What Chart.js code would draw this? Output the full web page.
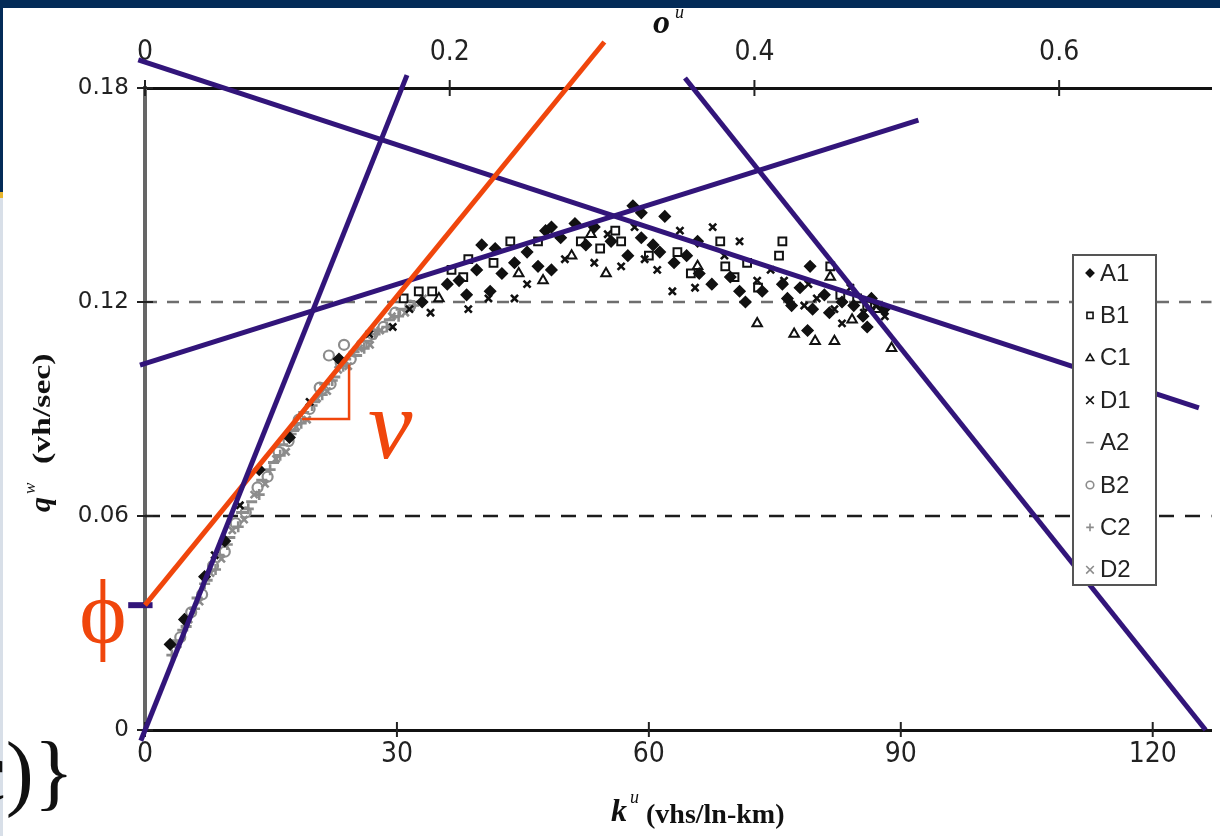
<!DOCTYPE html>
<html lang="en">
<head>
<meta charset="UTF-8">
<title>Flow-density diagram</title>
<style>
    body { margin: 0; padding: 0; background: #ffffff; }
    #wrap { position: relative; width: 1220px; height: 836px; }
</style>
</head>
<body>
<div id="wrap"><canvas id="chart"></canvas></div>

<script src="https://cdn.jsdelivr.net/npm/chart.js"></script>
<script>
// ---- data (k = density veh/ln-km, q = flow veh/sec) ----
const seriesNames = ['A1', 'B1', 'C1', 'D1', 'A2', 'B2', 'C2', 'D2'];

const kA1 = [3.0, 4.7, 7.1, 9.5, 13.6, 17.2, 23.1, 33.0, 36.0, 37.4, 38.3, 39.5, 40.1, 41.1, 41.7, 42.5, 44.0, 45.5, 46.8, 47.7, 48.4, 48.4, 49.5, 51.2, 52.5, 53.5, 55.5, 57.5, 58.1, 59.1, 59.1, 60.5, 61.3, 61.9, 63.0, 64.5, 65.8, 66.0, 67.5, 69.7, 70.8, 71.5, 73.5, 75.9, 76.5, 77.0, 78.0, 78.9, 79.2, 79.5, 80.9, 81.5, 83.0, 84.4, 85.5, 86.0, 86.5, 88.0];
const qA1 = [0.024, 0.031, 0.043, 0.053, 0.073, 0.082, 0.104, 0.120, 0.125, 0.126, 0.122, 0.129, 0.136, 0.123, 0.135, 0.128, 0.131, 0.134, 0.130, 0.140, 0.141, 0.129, 0.138, 0.142, 0.136, 0.141, 0.137, 0.133, 0.147, 0.145, 0.138, 0.136, 0.134, 0.144, 0.131, 0.133, 0.137, 0.128, 0.125, 0.127, 0.123, 0.120, 0.123, 0.125, 0.121, 0.119, 0.124, 0.112, 0.130, 0.118, 0.122, 0.117, 0.120, 0.119, 0.116, 0.113, 0.121, 0.118];

const kB1 = [30.8, 32.6, 34.2, 36.5, 37.9, 38.5, 41.5, 43.5, 46.8, 51.9, 54.2, 56.0, 56.7, 60.0, 63.4, 65.0, 68.5, 69.1, 70.2, 71.7, 73.0, 75.5, 75.9, 81.6, 82.8, 84.8, 86.0];
const qB1 = [0.121, 0.123, 0.123, 0.129, 0.127, 0.132, 0.131, 0.137, 0.137, 0.137, 0.135, 0.140, 0.137, 0.133, 0.134, 0.128, 0.137, 0.130, 0.127, 0.131, 0.124, 0.133, 0.137, 0.130, 0.122, 0.121, 0.119];

const kC1 = [35.0, 44.5, 47.4, 50.8, 53.1, 54.9, 65.8, 72.9, 77.3, 79.8, 81.6, 82.1, 84.2, 87.2, 88.9];
const qC1 = [0.121, 0.128, 0.126, 0.133, 0.139, 0.128, 0.130, 0.114, 0.111, 0.109, 0.127, 0.109, 0.115, 0.118, 0.107];

const kD1 = [8.3, 11.3, 19.6, 26.7, 29.5, 31.5, 34.0, 38.5, 40.9, 44.0, 45.5, 50.0, 53.5, 55.1, 56.7, 58.3, 59.5, 61.0, 62.8, 63.7, 65.5, 67.6, 69.0, 70.8, 72.9, 74.5, 76.1, 78.5, 79.0, 80.0, 82.1, 83.0, 84.0, 85.6, 87.0, 88.1];
const qD1 = [0.049, 0.063, 0.092, 0.111, 0.113, 0.118, 0.117, 0.118, 0.121, 0.121, 0.125, 0.132, 0.131, 0.139, 0.130, 0.141, 0.132, 0.129, 0.123, 0.140, 0.124, 0.141, 0.133, 0.137, 0.126, 0.129, 0.126, 0.119, 0.125, 0.121, 0.118, 0.114, 0.124, 0.117, 0.119, 0.116];

const kA2 = [3.6, 4.9, 6.2, 7.4, 8.8, 10.1, 11.5, 12.7, 13.9, 15.3, 16.4, 17.7, 18.9, 20.2, 21.4, 22.6, 23.9, 25.2, 26.4, 27.7, 29.1, 30.5];
const qA2 = [0.025, 0.029, 0.037, 0.042, 0.049, 0.054, 0.061, 0.064, 0.070, 0.075, 0.080, 0.084, 0.089, 0.092, 0.097, 0.099, 0.104, 0.105, 0.109, 0.112, 0.115, 0.118];

const kB2 = [4.2, 5.5, 6.8, 8.1, 9.5, 10.8, 12.0, 13.4, 14.6, 15.9, 17.1, 18.3, 19.6, 20.8, 21.9, 22.1, 23.3, 23.7, 24.5, 25.8, 27.1, 28.4, 29.8, 31.6];
const qB2 = [0.026, 0.033, 0.038, 0.046, 0.050, 0.058, 0.061, 0.068, 0.071, 0.078, 0.081, 0.087, 0.090, 0.096, 0.105, 0.097, 0.103, 0.108, 0.104, 0.108, 0.111, 0.113, 0.117, 0.119];

const kC2 = [3.2, 4.5, 5.9, 7.1, 8.4, 9.8, 11.1, 12.3, 13.6, 14.9, 16.1, 17.4, 18.6, 19.9, 21.1, 22.3, 23.6, 24.9, 26.1, 27.4, 28.8, 30.2, 32.0];
const qC2 = [0.021, 0.028, 0.034, 0.041, 0.045, 0.052, 0.057, 0.062, 0.066, 0.073, 0.077, 0.083, 0.086, 0.091, 0.094, 0.098, 0.102, 0.106, 0.107, 0.111, 0.113, 0.116, 0.119];

const kD2 = [3.9, 5.2, 6.5, 7.8, 9.1, 10.4, 11.8, 13.0, 14.3, 15.6, 16.8, 18.0, 19.3, 20.5, 21.7, 23.0, 24.2, 25.5, 26.8, 28.0, 29.4, 31.0, 33.1];
const qD2 = [0.024, 0.031, 0.036, 0.044, 0.048, 0.056, 0.059, 0.066, 0.069, 0.076, 0.078, 0.085, 0.087, 0.093, 0.095, 0.101, 0.102, 0.107, 0.108, 0.112, 0.116, 0.117, 0.121];

// fitted lines, [k, q] end points
const freeFlowLine = [[-0.5, -0.003], [31.2, 0.1836]];
const orangeLine   = [[0, 0.035], [54.7, 0.1929]];
const risingLine   = [[-0.6, 0.1023], [92.1, 0.171]];
const fallingLine  = [[-0.8, 0.1879], [125.5, 0.0903]];
const jamLine      = [[64.3, 0.1828], [126.3, 0]];
const phiMark      = [[-2.0, 0.035], [0.9, 0.035]];
const slopeTri     = [[18.7, 0.0872], [24.3, 0.0872], [24.3, 0.1025]];

// axes
const kTicks = [0, 30, 60, 90, 120];
const oTicks = [0, 0.2, 0.4, 0.6];
const qTicks = [0, 0.06, 0.12, 0.18];

const pts = (ks, qs) => ks.map((k, i) => ({ x: k, y: qs[i] }));
const seg = arr => arr.map(p => ({ x: p[0], y: p[1] }));

const BLACK = '#111111';
const GREY = '#8c8c8c';
const PURPLE = '#32157a';
const ORANGE = '#f0460c';

function markerSet(label, data, style, color, fill, r, bw) {
    return {
        label: label, data: data, pointStyle: style, pointRadius: r,
        borderColor: color, backgroundColor: fill, pointBorderWidth: bw,
        borderWidth: bw, order: color === GREY ? 2 : 1
    };
}
function lineSet(data, color, w) {
    return {
        label: '', data: data, showLine: true, pointRadius: 0, borderColor: color,
        borderWidth: w, clip: false, order: 0, borderCapStyle: 'butt'
    };
}

const datasets = [
    lineSet(seg(freeFlowLine), PURPLE, 5),
    lineSet(seg(orangeLine), ORANGE, 5),
    lineSet(seg(risingLine), PURPLE, 5),
    lineSet(seg(fallingLine), PURPLE, 5),
    lineSet(seg(jamLine), PURPLE, 5),
    lineSet(seg(phiMark), PURPLE, 6),
    lineSet(seg(slopeTri), ORANGE, 2.5),
    markerSet('A1', pts(kA1, qA1), 'rectRot', BLACK, BLACK, 5.5, 1.5),
    markerSet('B1', pts(kB1, qB1), 'rect', BLACK, 'rgba(0,0,0,0)', 5.5, 2),
    markerSet('C1', pts(kC1, qC1), 'triangle', BLACK, 'rgba(0,0,0,0)', 5.5, 2),
    markerSet('D1', pts(kD1, qD1), 'crossRot', BLACK, BLACK, 5, 2.6),
    markerSet('A2', pts(kA2, qA2), 'line', GREY, GREY, 5.5, 3),
    markerSet('B2', pts(kB2, qB2), 'circle', GREY, 'rgba(0,0,0,0)', 5, 2.2),
    markerSet('C2', pts(kC2, qC2), 'cross', GREY, GREY, 5.5, 2.6),
    markerSet('D2', pts(kD2, qD2), 'crossRot', GREY, GREY, 5, 2.6)
];

// small marker painter for the legend box
function drawMarker(c, style, x, y, r) {
    c.beginPath();
    if (style === 'rectRot') {
        c.moveTo(x, y - r); c.lineTo(x + r, y); c.lineTo(x, y + r); c.lineTo(x - r, y); c.closePath();
        c.fill(); c.stroke();
    } else if (style === 'rect') {
        c.rect(x - r * 0.8, y - r * 0.8, r * 1.6, r * 1.6); c.stroke();
    } else if (style === 'triangle') {
        c.moveTo(x, y - r); c.lineTo(x + r, y + r * 0.7); c.lineTo(x - r, y + r * 0.7); c.closePath(); c.stroke();
    } else if (style === 'crossRot') {
        c.moveTo(x - r, y - r); c.lineTo(x + r, y + r); c.moveTo(x + r, y - r); c.lineTo(x - r, y + r); c.stroke();
    } else if (style === 'line') {
        c.moveTo(x - r, y); c.lineTo(x + r, y); c.stroke();
    } else if (style === 'circle') {
        c.arc(x, y, r, 0, Math.PI * 2); c.stroke();
    } else if (style === 'cross') {
        c.moveTo(x - r, y); c.lineTo(x + r, y); c.moveTo(x, y - r); c.lineTo(x, y + r); c.stroke();
    }
}

const decor = {
    id: 'decor',
    beforeDraw(chart) {
        const c = chart.ctx;
        c.save();
        c.fillStyle = '#ffffff';
        c.fillRect(0, 0, chart.width, chart.height);
        // slide frame
        c.fillStyle = '#032b58';
        c.fillRect(0, 0, chart.width, 8);
        c.fillRect(0, 0, 3, 192);
        c.fillStyle = '#e7b52e';
        c.fillRect(0, 192, 3, 6);
        c.fillStyle = '#d8dfe8';
        c.fillRect(0, 198, 3, chart.height - 198);
        c.restore();
    },
    beforeDatasetsDraw(chart) {
        const c = chart.ctx, a = chart.chartArea, ys = chart.scales.y;
        c.save();
        // dashed guides at the inner q ticks
        const inner = qTicks.filter(v => v > 0 && v < ys.max);
        inner.forEach((v, i) => {
            const py = Math.round(ys.getPixelForValue(v));
            c.strokeStyle = i === 0 ? '#1c1c1c' : '#6e6e6e';
            c.lineWidth = 2.5;
            c.setLineDash(i === 0 ? [15, 11] : [12, 10]);
            c.beginPath(); c.moveTo(a.left, py); c.lineTo(a.right, py); c.stroke();
        });
        c.setLineDash([]);
        // cross tick marks
        c.strokeStyle = '#222'; c.lineWidth = 2;
        qTicks.forEach(v => {
            const py = ys.getPixelForValue(v);
            c.beginPath(); c.moveTo(a.left - 8, py); c.lineTo(a.left + 8, py); c.stroke();
        });
        kTicks.forEach(v => {
            const px = chart.scales.x.getPixelForValue(v);
            c.beginPath(); c.moveTo(px, a.bottom - 8); c.lineTo(px, a.bottom + 7); c.stroke();
        });
        oTicks.forEach(v => {
            const px = chart.scales.x2.getPixelForValue(v);
            c.beginPath(); c.moveTo(px, a.top - 8); c.lineTo(px, a.top + 8); c.stroke();
        });
        c.restore();
    },
    afterDatasetsDraw(chart) {
        const c = chart.ctx;
        c.save();
        // legend box inside the plot
        c.fillStyle = '#ffffff';
        c.fillRect(1073, 255, 83, 330);
        c.strokeStyle = '#555';
        c.lineWidth = 2;
        c.strokeRect(1073, 255, 83, 330);
        seriesNames.forEach((name, i) => {
            const ds = chart.data.datasets.find(d => d.label === name);
            const yy = 273 + i * 42.4;
            c.strokeStyle = ds.borderColor;
            c.fillStyle = ds.backgroundColor;
            c.lineWidth = 1.6;
            drawMarker(c, ds.pointStyle, 1090, yy, 3.8);
            c.fillStyle = '#222';
            c.font = '24px "Liberation Sans", Arial, sans-serif';
            c.textBaseline = 'middle';
            c.textAlign = 'left';
            c.fillText(name, 1100, yy + 1);
        });
        c.restore();
    },
    afterDraw(chart) {
        const c = chart.ctx;
        c.save();
        c.textAlign = 'left';
        c.textBaseline = 'alphabetic';
        // top axis title
        c.fillStyle = '#111';
        c.font = 'bold italic 34px "Liberation Serif", serif';
        c.fillText('o', 653, 33);
        c.font = 'italic 18px "Liberation Serif", serif';
        c.fillText('u', 675, 18);
        // bottom axis title
        c.font = 'bold italic 32px "Liberation Serif", serif';
        c.fillText('k', 611, 821);
        c.font = 'italic 18px "Liberation Serif", serif';
        c.fillText('u', 630, 803);
        c.font = 'bold 28px "Liberation Serif", serif';
        c.fillText('(vhs/ln-km)', 646, 823);
        // left axis title (rotated)
        c.save();
        c.translate(50, 512);
        c.rotate(-Math.PI / 2);
        c.font = 'bold italic 30px "Liberation Serif", serif';
        c.fillText('q', 0, 0);
        c.font = 'italic 17px "Liberation Serif", serif';
        c.fillText('w', 18, -15);
        c.scale(1.35, 1);
        c.font = 'bold 25px "Liberation Serif", serif';
        c.fillText('(vh/sec)', 48 / 1.35, 0);
        c.restore();
        // annotations
        c.fillStyle = ORANGE;
        c.font = 'italic 100px "Liberation Serif", "DejaVu Serif", serif';
        c.fillText('\u03BD', 368, 458);
        c.font = '90px "Liberation Serif", "DejaVu Serif", serif';
        c.textAlign = 'center';
        c.fillText('\u03D5', 103, 643);
        // leftover of the slide formula
        c.fillStyle = '#111';
        c.textAlign = 'right';
        c.font = '84px "Liberation Serif", serif';
        c.fillText('c)}', 74, 800);
        c.restore();
    }
};

const narrow = '"Liberation Sans Narrow", "DejaVu Sans Condensed", Arial, sans-serif';

new Chart(document.getElementById('chart'), {
    type: 'scatter',
    data: { datasets: datasets },
    plugins: [decor],
    options: {
        responsive: true,
        maintainAspectRatio: false,
        animation: false,
        layout: { padding: { left: 0, right: 5, top: 0, bottom: 0 } },
        plugins: { legend: { display: false }, tooltip: { enabled: false } },
        scales: {
            x: {
                type: 'linear', position: 'bottom', min: 0, max: 127,
                afterBuildTicks: s => { s.ticks = kTicks.map(v => ({ value: v })); },
                ticks: { color: '#222', padding: 8, font: { family: narrow, size: 28 }, maxRotation: 0 },
                grid: { display: false, drawTicks: false },
                border: { color: '#111', width: 3 },
                afterFit: s => { s.height = 106; }
            },
            x2: {
                type: 'linear', position: 'top', min: 0, max: 0.7,
                afterBuildTicks: s => { s.ticks = oTicks.map(v => ({ value: v })); },
                ticks: { color: '#222', padding: 18, font: { family: narrow, size: 28 }, maxRotation: 0,
                         callback: v => String(Number(v.toFixed(1))) },
                grid: { display: false, drawTicks: false },
                border: { color: '#111', width: 3 },
                afterFit: s => { s.height = 88; }
            },
            y: {
                type: 'linear', min: 0, max: 0.18,
                afterBuildTicks: s => { s.ticks = qTicks.map(v => ({ value: v })); },
                ticks: { color: '#222', padding: 16, font: { family: '"DejaVu Sans", Arial, sans-serif', size: 23 },
                         callback: v => v === 0 ? '0' : v.toFixed(2) },
                grid: { display: false, drawTicks: false },
                border: { color: '#666', width: 4 },
                afterFit: s => { s.width = 145; }
            }
        }
    }
});
</script>
</body>
</html>
